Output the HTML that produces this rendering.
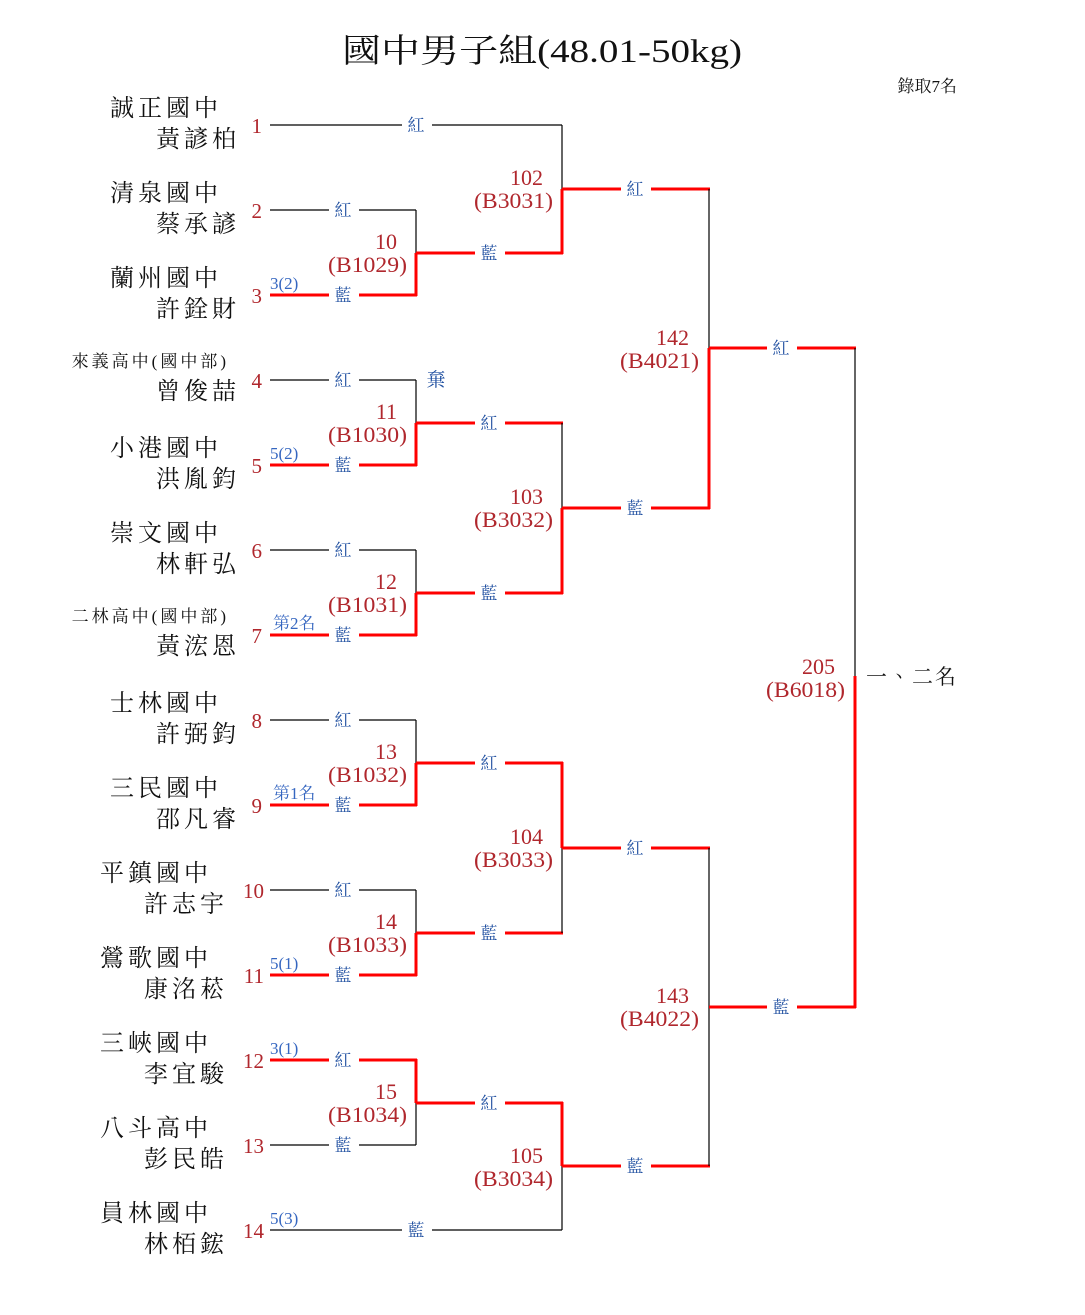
<!DOCTYPE html>
<html><head><meta charset="utf-8"><style>
html,body{margin:0;padding:0;background:#fff;}
svg{display:block;}
text{font-family:"Liberation Serif","Noto Serif CJK TC","Noto Serif CJK SC",serif;}
.nm{font-size:24px;fill:#111;letter-spacing:4px;text-anchor:end;}
.sm{font-size:17px;fill:#111;letter-spacing:3px;text-anchor:end;}
.num{font-size:21px;fill:#b0272d;text-anchor:end;}
.ml{font-size:22px;fill:#b0272d;text-anchor:end;}
.cl{font-size:17px;fill:#1f4fa0;text-anchor:middle;}
.bl{font-size:17px;fill:#3566c0;}
.k{stroke:#000;stroke-width:1.2;fill:none;}
.r{stroke:#ff0000;stroke-width:3;fill:none;}
</style></head><body>
<svg width="1085" height="1315" viewBox="0 0 1085 1315" xmlns="http://www.w3.org/2000/svg">
<text x="342" y="62" textLength="400" lengthAdjust="spacingAndGlyphs" style="font-size:33px;fill:#111">國中男子組(48.01-50kg)</text>
<text x="957" y="92" style="font-size:17px;fill:#111;text-anchor:end">錄取7名</text>

<text class="nm" x="222" y="116">誠正國中</text><text class="nm" x="240" y="147">黃諺柏</text><text class="num" x="262" y="133">1</text>
<text class="nm" x="222" y="201">清泉國中</text><text class="nm" x="240" y="232">蔡承諺</text><text class="num" x="262" y="218">2</text>
<text class="nm" x="222" y="286">蘭州國中</text><text class="nm" x="240" y="317">許銓財</text><text class="num" x="262" y="303">3</text>
<text class="sm" x="229" y="367">來義高中(國中部)</text><text class="nm" x="240" y="399">曾俊喆</text><text class="num" x="262" y="388">4</text>
<text class="nm" x="222" y="456">小港國中</text><text class="nm" x="240" y="487">洪胤鈞</text><text class="num" x="262" y="473">5</text>
<text class="nm" x="222" y="541">崇文國中</text><text class="nm" x="240" y="572">林軒弘</text><text class="num" x="262" y="558">6</text>
<text class="sm" x="229" y="622">二林高中(國中部)</text><text class="nm" x="240" y="654">黃浤恩</text><text class="num" x="262" y="643">7</text>
<text class="nm" x="222" y="711">士林國中</text><text class="nm" x="240" y="742">許弼鈞</text><text class="num" x="262" y="728">8</text>
<text class="nm" x="222" y="796">三民國中</text><text class="nm" x="240" y="827">邵凡睿</text><text class="num" x="262" y="813">9</text>
<text class="nm" x="212" y="881">平鎮國中</text><text class="nm" x="228" y="912">許志宇</text><text class="num" x="264" y="898">10</text>
<text class="nm" x="212" y="966">鶯歌國中</text><text class="nm" x="228" y="997">康洺菘</text><text class="num" x="264" y="983">11</text>
<text class="nm" x="212" y="1051">三峽國中</text><text class="nm" x="228" y="1082">李宜駿</text><text class="num" x="264" y="1068">12</text>
<text class="nm" x="212" y="1136">八斗高中</text><text class="nm" x="228" y="1167">彭民皓</text><text class="num" x="264" y="1153">13</text>
<text class="nm" x="212" y="1221">員林國中</text><text class="nm" x="228" y="1252">林栢鋐</text><text class="num" x="264" y="1238">14</text>

<line class="k" x1="270" y1="125" x2="562" y2="125"/>
<line class="k" x1="270" y1="210" x2="416" y2="210"/>
<line class="r" x1="270" y1="295" x2="417" y2="295"/>
<line class="k" x1="270" y1="380" x2="416" y2="380"/>
<line class="r" x1="270" y1="465" x2="417" y2="465"/>
<line class="k" x1="270" y1="550" x2="416" y2="550"/>
<line class="r" x1="270" y1="635" x2="417" y2="635"/>
<line class="k" x1="270" y1="720" x2="416" y2="720"/>
<line class="r" x1="270" y1="805" x2="417" y2="805"/>
<line class="k" x1="270" y1="890" x2="416" y2="890"/>
<line class="r" x1="270" y1="975" x2="417" y2="975"/>
<line class="r" x1="270" y1="1060" x2="417" y2="1060"/>
<line class="k" x1="270" y1="1145" x2="416" y2="1145"/>
<line class="k" x1="270" y1="1230" x2="562" y2="1230"/>

<line class="k" x1="416" y1="210" x2="416" y2="253"/><line class="r" x1="416" y1="253" x2="416" y2="296"/>
<line class="k" x1="416" y1="380" x2="416" y2="423"/><line class="r" x1="416" y1="423" x2="416" y2="466"/>
<line class="k" x1="416" y1="550" x2="416" y2="593"/><line class="r" x1="416" y1="593" x2="416" y2="636"/>
<line class="k" x1="416" y1="720" x2="416" y2="763"/><line class="r" x1="416" y1="763" x2="416" y2="806"/>
<line class="k" x1="416" y1="890" x2="416" y2="933"/><line class="r" x1="416" y1="933" x2="416" y2="976"/>
<line class="r" x1="416" y1="1059" x2="416" y2="1103"/><line class="k" x1="416" y1="1103" x2="416" y2="1145"/>

<line class="r" x1="416" y1="253" x2="563" y2="253"/>
<line class="r" x1="416" y1="423" x2="563" y2="423"/>
<line class="r" x1="416" y1="593" x2="563" y2="593"/>
<line class="r" x1="416" y1="763" x2="563" y2="763"/>
<line class="r" x1="416" y1="933" x2="563" y2="933"/>
<line class="r" x1="416" y1="1103" x2="563" y2="1103"/>

<line class="k" x1="562" y1="125" x2="562" y2="189"/><line class="r" x1="562" y1="189" x2="562" y2="254"/>
<line class="k" x1="562" y1="423" x2="562" y2="508"/><line class="r" x1="562" y1="508" x2="562" y2="594"/>
<line class="r" x1="562" y1="762" x2="562" y2="848"/><line class="k" x1="562" y1="848" x2="562" y2="933"/>
<line class="r" x1="562" y1="1102" x2="562" y2="1166"/><line class="k" x1="562" y1="1166" x2="562" y2="1230"/>

<line class="r" x1="562" y1="189" x2="710" y2="189"/>
<line class="r" x1="562" y1="508" x2="710" y2="508"/>
<line class="r" x1="562" y1="848" x2="710" y2="848"/>
<line class="r" x1="562" y1="1166" x2="710" y2="1166"/>

<line class="k" x1="709" y1="189" x2="709" y2="348"/><line class="r" x1="709" y1="348" x2="709" y2="509"/>
<line class="k" x1="709" y1="848" x2="709" y2="1166"/>
<line class="r" x1="709" y1="348" x2="856" y2="348"/>
<line class="r" x1="709" y1="1007" x2="856" y2="1007"/>

<line class="k" x1="855" y1="348" x2="855" y2="676"/><line class="r" x1="855" y1="676" x2="855" y2="1008"/>

<g>
<rect x="402" y="114" width="30" height="22" fill="#fff"/><text class="cl" x="416" y="131">紅</text>
<rect x="329" y="199" width="30" height="22" fill="#fff"/><text class="cl" x="343" y="216">紅</text>
<rect x="329" y="284" width="30" height="22" fill="#fff"/><text class="cl" x="343" y="301">藍</text>
<rect x="329" y="369" width="30" height="22" fill="#fff"/><text class="cl" x="343" y="386">紅</text>
<rect x="329" y="454" width="30" height="22" fill="#fff"/><text class="cl" x="343" y="471">藍</text>
<rect x="329" y="539" width="30" height="22" fill="#fff"/><text class="cl" x="343" y="556">紅</text>
<rect x="329" y="624" width="30" height="22" fill="#fff"/><text class="cl" x="343" y="641">藍</text>
<rect x="329" y="709" width="30" height="22" fill="#fff"/><text class="cl" x="343" y="726">紅</text>
<rect x="329" y="794" width="30" height="22" fill="#fff"/><text class="cl" x="343" y="811">藍</text>
<rect x="329" y="879" width="30" height="22" fill="#fff"/><text class="cl" x="343" y="896">紅</text>
<rect x="329" y="964" width="30" height="22" fill="#fff"/><text class="cl" x="343" y="981">藍</text>
<rect x="329" y="1049" width="30" height="22" fill="#fff"/><text class="cl" x="343" y="1066">紅</text>
<rect x="329" y="1134" width="30" height="22" fill="#fff"/><text class="cl" x="343" y="1151">藍</text>
<rect x="402" y="1219" width="30" height="22" fill="#fff"/><text class="cl" x="416" y="1236">藍</text>

<rect x="475" y="242" width="30" height="22" fill="#fff"/><text class="cl" x="489" y="259">藍</text>
<rect x="475" y="412" width="30" height="22" fill="#fff"/><text class="cl" x="489" y="429">紅</text>
<rect x="475" y="582" width="30" height="22" fill="#fff"/><text class="cl" x="489" y="599">藍</text>
<rect x="475" y="752" width="30" height="22" fill="#fff"/><text class="cl" x="489" y="769">紅</text>
<rect x="475" y="922" width="30" height="22" fill="#fff"/><text class="cl" x="489" y="939">藍</text>
<rect x="475" y="1092" width="30" height="22" fill="#fff"/><text class="cl" x="489" y="1109">紅</text>

<rect x="621" y="178" width="30" height="22" fill="#fff"/><text class="cl" x="635" y="195">紅</text>
<rect x="621" y="497" width="30" height="22" fill="#fff"/><text class="cl" x="635" y="514">藍</text>
<rect x="621" y="837" width="30" height="22" fill="#fff"/><text class="cl" x="635" y="854">紅</text>
<rect x="621" y="1155" width="30" height="22" fill="#fff"/><text class="cl" x="635" y="1172">藍</text>

<rect x="767" y="337" width="30" height="22" fill="#fff"/><text class="cl" x="781" y="354">紅</text>
<rect x="767" y="996" width="30" height="22" fill="#fff"/><text class="cl" x="781" y="1013">藍</text>
</g>
<text class="cl" x="436" y="386" style="font-size:19px">棄</text>

<text class="bl" x="270" y="289">3(2)</text>
<text class="bl" x="270" y="459">5(2)</text>
<text class="bl" x="273" y="629">第2名</text>
<text class="bl" x="273" y="799">第1名</text>
<text class="bl" x="270" y="969">5(1)</text>
<text class="bl" x="270" y="1054">3(1)</text>
<text class="bl" x="270" y="1224">5(3)</text>

<g>
<text class="ml" x="397" y="249">10</text><text class="ml" x="407" y="272" textLength="79" lengthAdjust="spacingAndGlyphs">(B1029)</text>
<text class="ml" x="397" y="419">11</text><text class="ml" x="407" y="442" textLength="79" lengthAdjust="spacingAndGlyphs">(B1030)</text>
<text class="ml" x="397" y="589">12</text><text class="ml" x="407" y="612" textLength="79" lengthAdjust="spacingAndGlyphs">(B1031)</text>
<text class="ml" x="397" y="759">13</text><text class="ml" x="407" y="782" textLength="79" lengthAdjust="spacingAndGlyphs">(B1032)</text>
<text class="ml" x="397" y="929">14</text><text class="ml" x="407" y="952" textLength="79" lengthAdjust="spacingAndGlyphs">(B1033)</text>
<text class="ml" x="397" y="1099">15</text><text class="ml" x="407" y="1122" textLength="79" lengthAdjust="spacingAndGlyphs">(B1034)</text>
<text class="ml" x="543" y="185">102</text><text class="ml" x="553" y="208" textLength="79" lengthAdjust="spacingAndGlyphs">(B3031)</text>
<text class="ml" x="543" y="504">103</text><text class="ml" x="553" y="527" textLength="79" lengthAdjust="spacingAndGlyphs">(B3032)</text>
<text class="ml" x="543" y="844">104</text><text class="ml" x="553" y="867" textLength="79" lengthAdjust="spacingAndGlyphs">(B3033)</text>
<text class="ml" x="543" y="1163">105</text><text class="ml" x="553" y="1186" textLength="79" lengthAdjust="spacingAndGlyphs">(B3034)</text>
<text class="ml" x="689" y="345">142</text><text class="ml" x="699" y="368" textLength="79" lengthAdjust="spacingAndGlyphs">(B4021)</text>
<text class="ml" x="689" y="1003">143</text><text class="ml" x="699" y="1026" textLength="79" lengthAdjust="spacingAndGlyphs">(B4022)</text>
<text class="ml" x="835" y="674">205</text><text class="ml" x="845" y="697" textLength="79" lengthAdjust="spacingAndGlyphs">(B6018)</text>
</g>
<text x="866" y="684" style="font-size:21px;fill:#111;letter-spacing:2px">一、二名</text>
</svg>
</body></html>
